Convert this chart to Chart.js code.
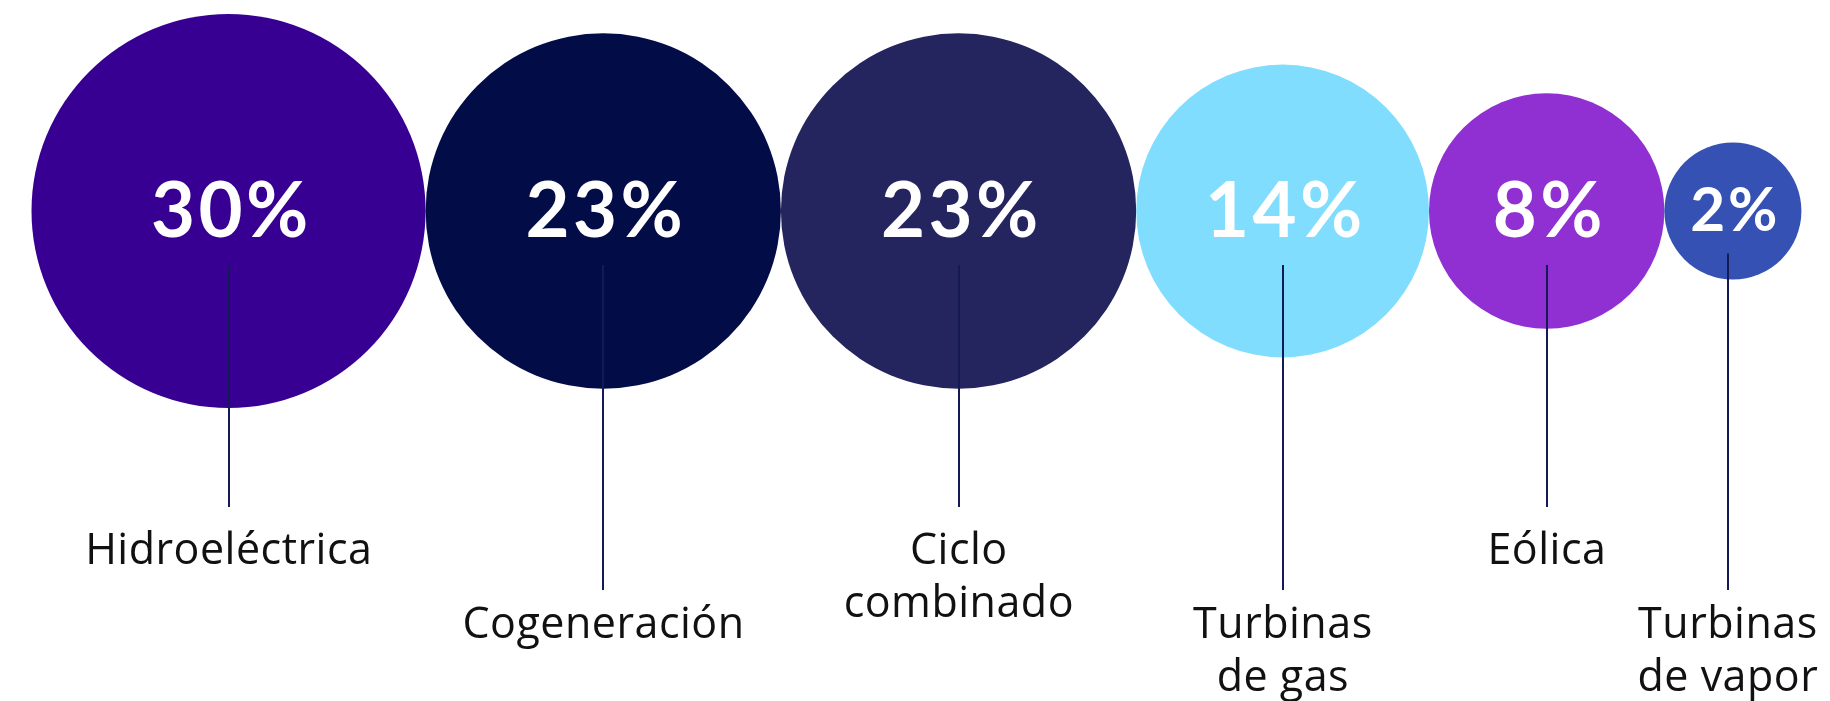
<!DOCTYPE html>
<html>
<head>
<meta charset="utf-8">
<script src="https://cdn.jsdelivr.net/npm/chart.js@4.4.0/dist/chart.umd.min.js"></script>
<style>
    html, body { margin: 0; padding: 0; background: #ffffff; }
    #wrap { width: 1830px; height: 701px; }
</style>
</head>
<body>
<div id="wrap"><canvas id="bubbles" width="1830" height="701"></canvas></div>
<script>
// Share of generation by technology (%)
const categories = [
    ['Hidroeléctrica'],
    ['Cogeneración'],
    ['Ciclo', 'combinado'],
    ['Turbinas', 'de gas'],
    ['Eólica'],
    ['Turbinas', 'de vapor']
];
const shares = [30, 23, 23, 14, 8, 2];
const shareLabels = shares.map(v => v + '%');

const bubbleColors = ['#370093', '#020c47', '#24245f', '#80ddfd', '#9030d2', '#3551b4'];
const lineColor = '#141a55';

// Bubble size grows with the share (in px, as Chart.js bubbles are sized in px)
function radiusFor(value) {
    return 52.3 * Math.pow(value, 0.39);
}

// Bubbles sit side by side, each one touching the next
const startX = 31.5;
const centerY = 211;
let cursor = startX;
const points = shares.map(v => {
    const r = radiusFor(v);
    const p = { x: cursor + r, y: centerY, r: r };
    cursor += 2 * r;
    return p;
});

// Percentages, leader lines and category names
const labelPlugin = {
    id: 'bubbleLabels',
    afterDatasetsDraw(chart) {
        const ctx = chart.ctx;
        const meta = chart.getDatasetMeta(0);
        const W = chart.width;
        ctx.save();
        meta.data.forEach((el, i) => {
            const r = el.options.radius;
            const cx = el.x, cy = el.y;

            // percentage inside the bubble
            const size = Math.min(76, r * 0.88);
            const spacing = size * 0.045;
            ctx.font = '700 ' + size + 'px Lato';
            ctx.letterSpacing = spacing + 'px';
            ctx.fillStyle = '#ffffff';
            ctx.textAlign = 'center';
            ctx.textBaseline = 'alphabetic';
            const base = cy - 1.5 + size * 0.36;
            ctx.fillText(shareLabels[i], cx + 1 + spacing / 2, base);

            // category name, kept inside the canvas
            ctx.font = '400 43px "Open Sans"';
            ctx.letterSpacing = '0.5px';
            const widest = Math.max(...categories[i].map(t => ctx.measureText(t).width));
            const lx = Math.min(cx, W - 12 - widest / 2);
            const low = i % 2 === 1;
            const firstBase = low ? 638 : 564;

            // leader line
            ctx.strokeStyle = lineColor;
            ctx.lineWidth = 2;
            ctx.beginPath();
            ctx.moveTo(Math.round(lx), base + size * 0.37);
            ctx.lineTo(Math.round(lx), low ? 590 : 507);
            ctx.stroke();

            ctx.fillStyle = '#111111';
            categories[i].forEach((t, k) => {
                ctx.fillText(t, lx + 0.25, firstBase + k * 53);
            });
        });
        ctx.restore();
    }
};

new Chart(document.getElementById('bubbles'), {
    type: 'bubble',
    data: {
        labels: categories.map(c => c.join(' ')),
        datasets: [{
            data: points,
            backgroundColor: bubbleColors,
            borderWidth: 0,
            hoverRadius: 0,
            clip: false
        }]
    },
    options: {
        responsive: false,
        animation: false,
        events: [],
        layout: { autoPadding: false, padding: 0 },
        scales: {
            x: { type: 'linear', min: 0, max: 1830, display: false },
            y: { type: 'linear', min: 0, max: 701, reverse: true, display: false }
        },
        plugins: {
            legend: { display: false },
            tooltip: { enabled: false }
        }
    },
    plugins: [labelPlugin]
});
</script>
</body>
</html>
